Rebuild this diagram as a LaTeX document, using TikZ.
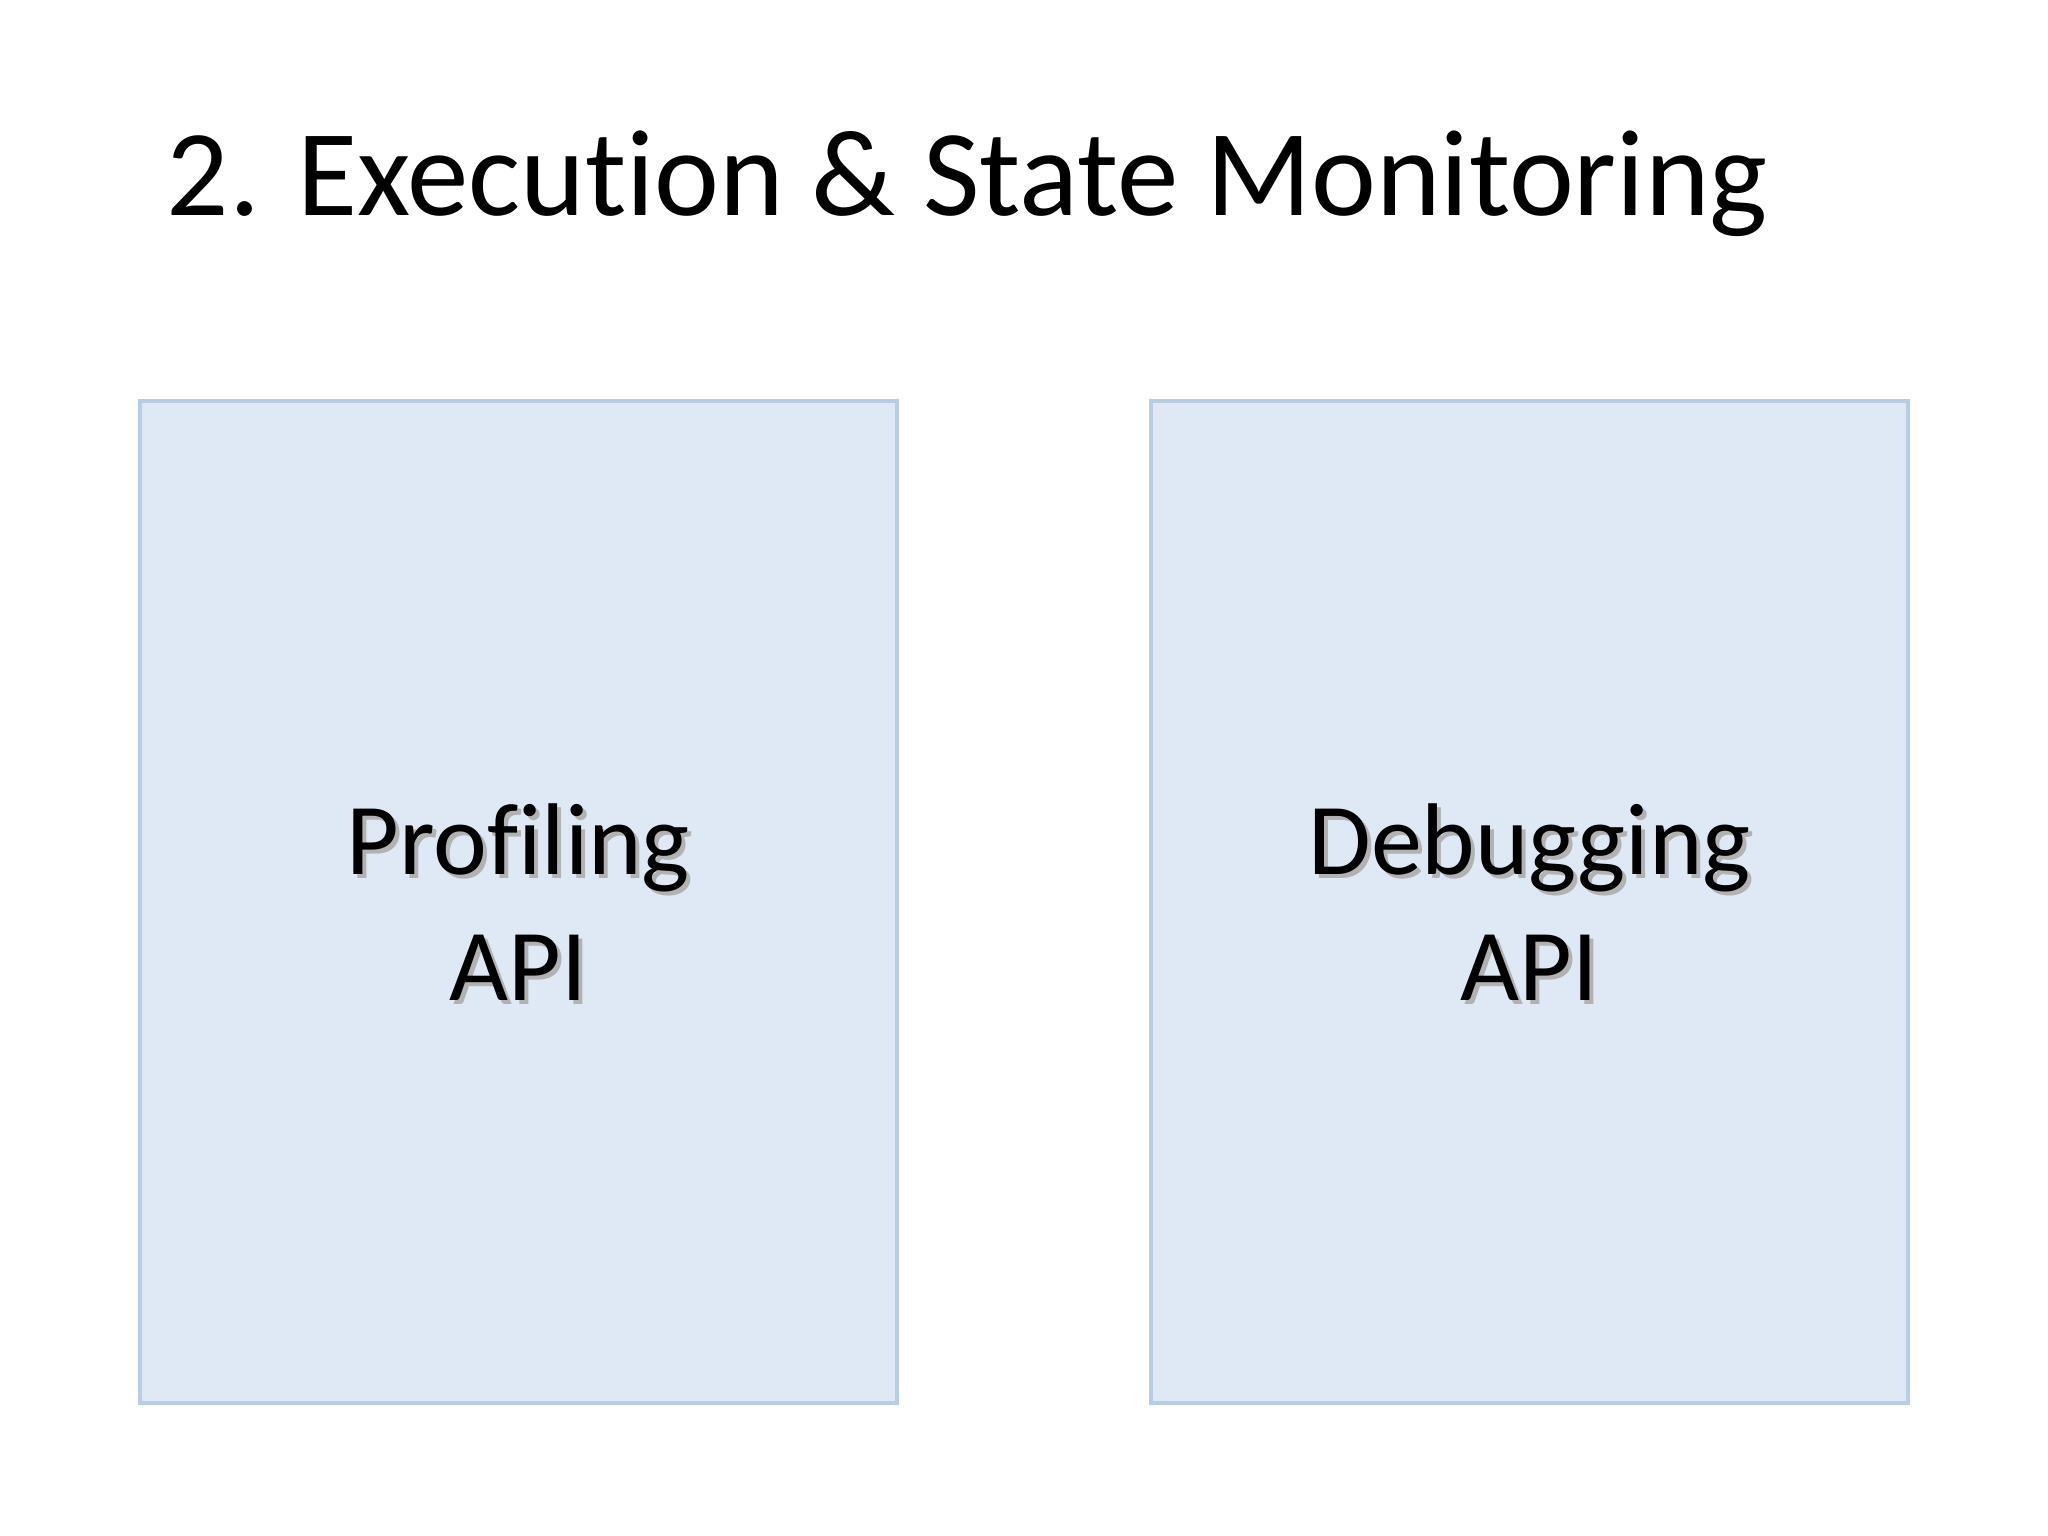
\documentclass[tikz,border=0pt]{standalone}
\usepackage{fontspec}
\setmainfont{Carlito}[Ligatures=NoCommon]
\usetikzlibrary{positioning}
\definecolor{apifill}{HTML}{DFE9F5}
\definecolor{apiline}{HTML}{B7CDE6}

\begin{document}
\begin{tikzpicture}[x=1cm,y=1cm,
        apibox/.style={draw=apiline, fill=apifill, line width=1.2pt, minimum width=7.57cm, minimum height=10.02cm, inner sep=0pt},
        apitext/.style={font=\fontsize{29}{36}\selectfont, align=center, text=black}]
        \useasboundingbox (0,0) rectangle (20.48,-15.36);
        \node[anchor=base west, inner sep=0pt, font=\fontsize{35}{42}\selectfont] (title) at (1.66,-2.16) {2. Execution \& State Monitoring};
        \node[apibox] (prof) at (5.185,-9.02) {};
        \node[apibox] (debug) at (15.295,-9.02) {};
        % text with a soft shadow
        \node[apitext, text=black!30] at ([shift={(0.04,-0.04)}]prof.center) {Profiling\\API};
        \node[apitext] (proftext) at (prof.center) {Profiling\\API};
        \node[apitext, text=black!30] at ([shift={(0.04,-0.04)}]debug.center) {Debugging\\API};
        \node[apitext] (debugtext) at (debug.center) {Debugging\\API};
    \end{tikzpicture}
\end{document}
